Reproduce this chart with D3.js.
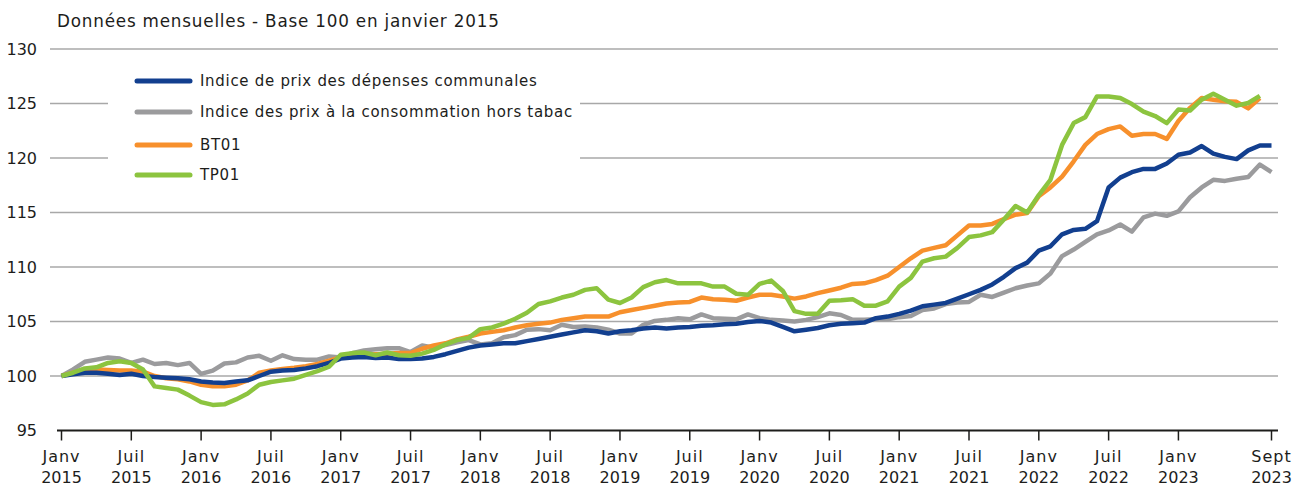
<!DOCTYPE html>
<html>
<head>
<meta charset="utf-8">
<script src="https://cdn.jsdelivr.net/npm/d3@7"></script>
<style>
  body { margin: 0; background: #fff; }
  text { font-family: "DejaVu Sans", sans-serif; fill: #1d1d1b; }
</style>
</head>
<body>
<svg id="chart" width="1299" height="488"></svg>
<script>
// monthly values, Janv 2015 = 100
const communales = [100.0,100.15,100.3,100.3,100.2,100.1,100.2,100.0,99.9,99.85,99.8,99.7,
  99.5,99.4,99.35,99.5,99.6,100.0,100.4,100.5,100.55,100.7,100.9,101.2,
  101.6,101.7,101.75,101.65,101.7,101.55,101.55,101.6,101.75,102.0,102.3,102.6,
  102.8,102.9,103.0,103.0,103.2,103.4,103.6,103.8,104.0,104.2,104.1,103.9,
  104.1,104.2,104.35,104.45,104.35,104.45,104.5,104.6,104.65,104.75,104.8,104.95,
  105.05,104.9,104.5,104.1,104.25,104.4,104.65,104.8,104.85,104.9,105.3,105.45,
  105.7,106.0,106.4,106.55,106.7,107.1,107.5,107.9,108.4,109.1,109.9,110.4,
  111.5,111.9,113.0,113.4,113.5,114.2,117.3,118.2,118.7,119.0,119.0,119.5,
  120.3,120.5,121.1,120.4,120.1,119.9,120.7,121.15,121.15];

const ipcHorsTabac = [100.0,100.6,101.3,101.5,101.7,101.6,101.2,101.5,101.1,101.2,101.0,101.2,
  100.2,100.5,101.15,101.25,101.7,101.85,101.4,101.9,101.55,101.5,101.5,101.8,
  101.7,102.1,102.35,102.45,102.55,102.55,102.2,102.8,102.6,102.85,103.1,103.3,
  102.9,103.0,103.55,103.75,104.25,104.3,104.2,104.7,104.5,104.55,104.45,104.25,
  103.9,103.9,104.7,105.05,105.15,105.3,105.2,105.65,105.3,105.25,105.2,105.65,
  105.3,105.15,105.1,105.0,105.15,105.4,105.75,105.6,105.15,105.15,105.2,105.2,
  105.4,105.5,106.05,106.2,106.6,106.75,106.8,107.45,107.25,107.65,108.05,108.3,
  108.5,109.4,111.0,111.6,112.3,113.0,113.35,113.9,113.25,114.55,114.9,114.7,
  115.1,116.4,117.3,118.0,117.9,118.1,118.25,119.4,118.7];

const bt01 = [100.0,100.3,100.5,100.6,100.55,100.5,100.5,100.4,100.0,99.8,99.7,99.5,
  99.2,99.05,99.05,99.2,99.6,100.3,100.5,100.65,100.75,100.9,101.1,101.4,
  101.7,101.85,101.95,102.0,102.05,102.1,102.1,102.5,102.8,103.0,103.35,103.6,
  103.9,104.05,104.2,104.45,104.65,104.8,104.9,105.15,105.3,105.45,105.45,105.45,
  105.85,106.05,106.25,106.45,106.65,106.75,106.8,107.2,107.05,107.0,106.9,107.2,
  107.45,107.45,107.3,107.1,107.3,107.6,107.85,108.1,108.45,108.5,108.8,109.2,
  110.0,110.8,111.5,111.75,112.0,112.9,113.8,113.8,113.95,114.4,114.8,114.95,
  116.5,117.3,118.3,119.7,121.2,122.2,122.65,122.9,122.05,122.2,122.2,121.75,
  123.4,124.6,125.5,125.35,125.2,125.15,124.55,125.5];

const tp01 = [100.0,100.3,100.7,100.8,101.2,101.35,101.2,100.6,99.05,98.9,98.75,98.2,
  97.6,97.35,97.4,97.85,98.4,99.2,99.45,99.6,99.75,100.1,100.45,100.85,
  101.95,102.1,102.15,101.9,102.15,101.9,101.85,102.05,102.4,102.9,103.3,103.5,
  104.3,104.45,104.8,105.25,105.8,106.6,106.85,107.2,107.45,107.9,108.05,107.0,
  106.7,107.2,108.15,108.6,108.8,108.5,108.5,108.5,108.2,108.2,107.55,107.45,
  108.45,108.75,107.8,105.95,105.7,105.7,106.9,106.95,107.05,106.45,106.45,106.85,
  108.2,109.0,110.5,110.8,110.95,111.75,112.75,112.9,113.2,114.35,115.6,115.0,
  116.6,118.0,121.2,123.2,123.75,125.65,125.65,125.5,124.95,124.25,123.85,123.2,
  124.45,124.35,125.35,125.9,125.35,124.8,125.05,125.7];

const seriesNames = ["Indice de prix des dépenses communales",
  "Indice des prix à la consommation hors tabac", "BT01", "TP01"];
const seriesColors = ["#123f8f", "#9b9b9d", "#f7902c", "#8cc43f"];

const yTicks = [95, 100, 105, 110, 115, 120, 125, 130];
const tickMonths = [0, 6, 12, 18, 24, 30, 36, 42, 48, 54, 60, 66, 72, 78, 84, 90, 96, 104];
const tickLabels = [["Janv","2015"],["Juil","2015"],["Janv","2016"],["Juil","2016"],
  ["Janv","2017"],["Juil","2017"],["Janv","2018"],["Juil","2018"],["Janv","2019"],
  ["Juil","2019"],["Janv","2020"],["Juil","2020"],["Janv","2021"],["Juil","2021"],
  ["Janv","2022"],["Juil","2022"],["Janv","2023"],["Sept","2023"]];

const svg = d3.select("#chart");

const x = d3.scaleLinear().domain([0, 104]).range([61.5, 1271.5]);
const y = d3.scaleLinear().domain([95, 130]).range([430.5, 49]);

// title
svg.append("text")
  .attr("x", 57).attr("y", 27)
  .attr("font-size", "16.8px")
  .attr("letter-spacing", "0.8px")
  .text("Données mensuelles - Base 100 en janvier 2015");

// gridlines
svg.append("g")
  .selectAll("line")
  .data(yTicks.filter(d => d > 95))
  .join("line")
  .attr("x1", 50).attr("x2", 1278)
  .attr("y1", d => y(d)).attr("y2", d => y(d))
  .attr("stroke", "#a8a8a8")
  .attr("stroke-width", 1.3);

// y labels
svg.append("g")
  .selectAll("text")
  .data(yTicks)
  .join("text")
  .attr("x", 37)
  .attr("y", d => y(d))
  .attr("dy", "0.35em")
  .attr("text-anchor", "end")
  .attr("font-size", "16px")
  .text(d => d);

// x axis
svg.append("line")
  .attr("x1", 57).attr("x2", 1278)
  .attr("y1", y(95)).attr("y2", y(95))
  .attr("stroke", "#1d1d1b")
  .attr("stroke-width", 2);

const xt = svg.append("g")
  .selectAll("g")
  .data(tickMonths.map((m, i) => ({ m: m, lab: tickLabels[i] })))
  .join("g")
  .attr("transform", d => `translate(${x(d.m)},${y(95)})`);

xt.append("line")
  .attr("y1", 0).attr("y2", 10)
  .attr("stroke", "#1d1d1b")
  .attr("stroke-width", 1.5);

xt.append("text")
  .attr("y", 31)
  .attr("text-anchor", "middle")
  .attr("font-size", "16px")
  .attr("letter-spacing", "1px")
  .text(d => d.lab[0]);

xt.append("text")
  .attr("y", 52)
  .attr("text-anchor", "middle")
  .attr("font-size", "16px")
  .text(d => d.lab[1]);

// lines, drawn bottom to top
const line = d3.line()
  .x((d, i) => x(i))
  .y(d => y(d))
  .curve(d3.curveLinear);

const allSeries = [communales, ipcHorsTabac, bt01, tp01];
const drawOrder = [1, 2, 0, 3];

svg.append("g")
  .selectAll("path")
  .data(drawOrder)
  .join("path")
  .attr("d", k => line(allSeries[k]))
  .attr("fill", "none")
  .attr("stroke", k => seriesColors[k])
  .attr("stroke-width", 4.5)
  .attr("stroke-linejoin", "round")
  .attr("stroke-linecap", "butt");

// legend
const legend = svg.append("g");
legend.append("rect")
  .attr("x", 108).attr("y", 62)
  .attr("width", 472).attr("height", 128)
  .attr("fill", "#fff");

const li = legend.selectAll("g")
  .data(seriesNames)
  .join("g")
  .attr("transform", (d, i) => `translate(137,${[81, 112, 145, 175][i]})`);

li.append("line")
  .attr("x1", 0).attr("x2", 53)
  .attr("stroke", (d, i) => seriesColors[i])
  .attr("stroke-width", 5)
  .attr("stroke-linecap", "round");

li.append("text")
  .attr("x", 63)
  .attr("dy", "0.35em")
  .attr("font-size", "15px")
  .attr("letter-spacing", "0.7px")
  .text(d => d);
</script>
</body>
</html>
